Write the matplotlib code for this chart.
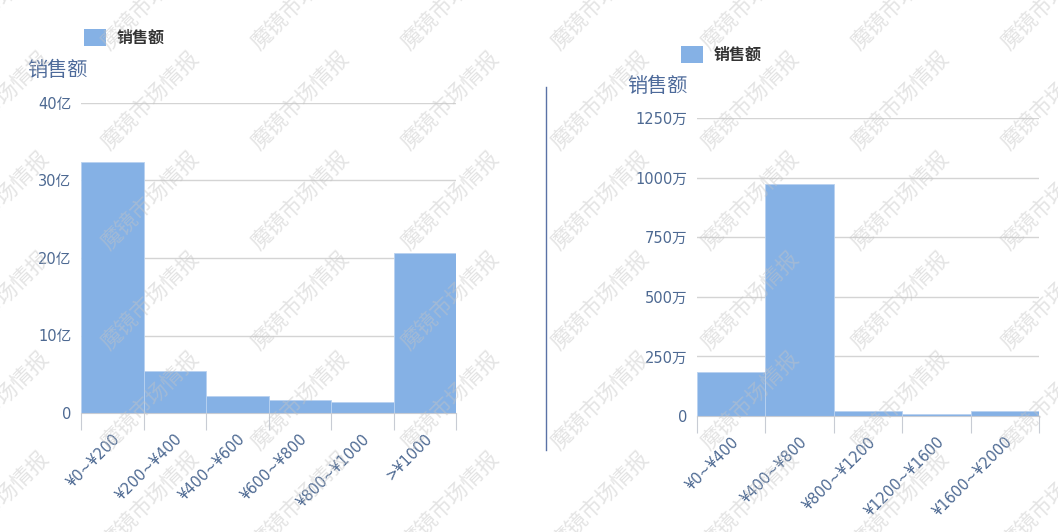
import numpy as np
import matplotlib
matplotlib.use('Agg')
from matplotlib import pyplot as plt
from matplotlib.patches import Patch

plt.rcParams['font.family'] = ['DejaVu Sans', 'Noto Sans CJK SC']

# left chart: sales by price band (unit: 亿)
left_bins = ['¥0~¥200', '¥200~¥400', '¥400~¥600', '¥600~¥800', '¥800~¥1000', '>¥1000']
left_sales = [32.4, 5.45, 2.25, 1.65, 1.45, 20.6]
left_ticks = [0, 10, 20, 30, 40]
left_tick_labels = ['0', '10亿', '20亿', '30亿', '40亿']

# right chart: sales by price band (unit: 万)
right_bins = ['¥0~¥400', '¥400~¥800', '¥800~¥1200', '¥1200~¥1600', '¥1600~¥2000']
right_sales = [186, 973, 21, 8, 21]
right_ticks = [0, 250, 500, 750, 1000, 1250]
right_tick_labels = ['0', '250万', '500万', '750万', '1000万', '1250万']

series_name = '销售额'
watermark = '魔镜市场情报'

BAR = '#85b1e5'
TICK_COLOR = '#4d6992'
GRID = '#d4d4d4'
W, H = 1058, 532

fig = plt.figure(figsize=(W / 100, H / 100), dpi=100, facecolor='white')


def px_axes(x0, x1, y_top, y_bottom):
    # axes rectangle given in pixel coords (origin top-left)
    return fig.add_axes([x0 / W, (H - y_bottom) / H, (x1 - x0) / W, (y_bottom - y_top) / H])


def draw_hist(ax, bins, values, ticks, tick_labels):
    n = len(bins)
    x = np.arange(n)
    ax.bar(x, values, width=1.0, align='edge', color=BAR, edgecolor='#b9d2f0',
           linewidth=0.6, zorder=2)
    ax.set_xlim(0, n)
    ax.set_ylim(ticks[0], ticks[-1])
    ax.set_yticks(ticks)
    ax.set_yticklabels(tick_labels)
    ax.grid(axis='y', color=GRID, linewidth=1, zorder=0)
    ax.set_axisbelow(True)
    for s in ['top', 'right', 'left']:
        ax.spines[s].set_visible(False)
    ax.spines['bottom'].set_color('#c8ccd4')
    ax.tick_params(axis='y', length=0, pad=7, labelsize=10.5, labelcolor=TICK_COLOR)
    # ticks at bin edges, labels at bin centres
    ax.set_xticks(np.arange(n + 1))
    ax.set_xticklabels([])
    ax.tick_params(axis='x', which='major', length=12, color='#c8ccd4', direction='out')
    ax.set_xticks(x + 0.5, minor=True)
    ax.set_xticklabels(bins, minor=True, rotation=45, ha='right', va='top',
                       rotation_mode='anchor')
    ax.tick_params(axis='x', which='minor', length=0, pad=13, labelsize=10.5,
                   labelcolor=TICK_COLOR)
    ax.set_facecolor('none')


ax1 = px_axes(81, 456, 103, 413)
draw_hist(ax1, left_bins, left_sales, left_ticks, left_tick_labels)

ax2 = px_axes(697, 1039, 118, 416)
draw_hist(ax2, right_bins, right_sales, right_ticks, right_tick_labels)

# legends
for ax, lx, ly in [(ax1, 84, 29), (ax2, 681, 46)]:
    ax.legend(handles=[Patch(facecolor=BAR, edgecolor='none', label=series_name)],
              loc='upper left', bbox_to_anchor=(lx / W, 1 - ly / H),
              bbox_transform=fig.transFigure, frameon=False, borderpad=0,
              borderaxespad=0, handlelength=1.4, handleheight=1.25,
              handletextpad=0.65, prop={'family': 'Noto Sans CJK SC', 'weight': 'bold',
                                        'size': 11.5},
              labelcolor='#333333')

# y-axis titles
fig.text(27 / W, 1 - 70 / H, series_name, ha='left', va='center', fontsize=14.5,
         color='#4d6a9a', family='Noto Sans CJK SC')
fig.text(627 / W, 1 - 87 / H, series_name, ha='left', va='center', fontsize=14.5,
         color='#4d6a9a', family='Noto Sans CJK SC')

# divider between the two charts
fig.add_artist(plt.Line2D([546 / W, 546 / W], [1 - 87 / H, 1 - 450 / H],
                          transform=fig.transFigure, color='#5a72a6', linewidth=1))

# watermark grid
for wx in range(0, 1101, 150):
    for wy in range(0, 601, 100):
        fig.text(wx / W, 1 - wy / H, watermark, ha='center', va='center', rotation=45,
                 fontsize=15.5, color='#c4c4c4', alpha=0.45,
                 family='Noto Sans CJK SC', zorder=10)

fig.savefig('out.png', dpi=100, facecolor='white')
